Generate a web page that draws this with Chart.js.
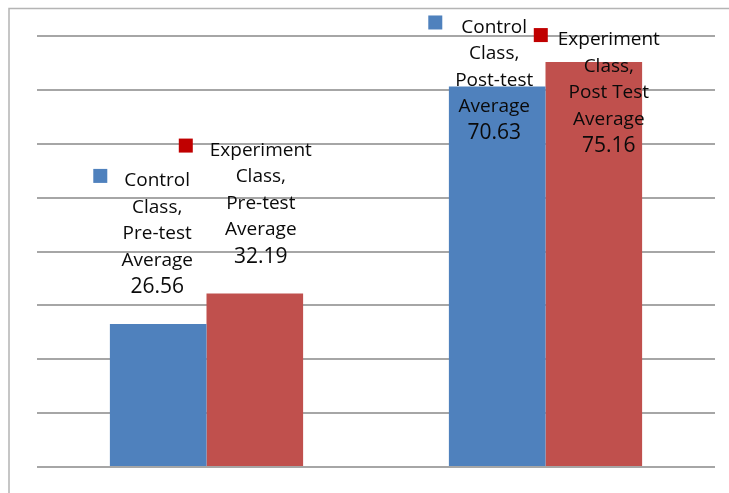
<!DOCTYPE html>
<html>
<head>
<meta charset="utf-8">
<script src="https://cdn.jsdelivr.net/npm/chart.js@4"></script>
<style>
    html, body { margin: 0; padding: 0; background: #fff; }
    #wrap { width: 729px; height: 493px; position: relative; }
</style>
</head>
<body>
<div id="wrap"><canvas id="chart" width="729" height="493"></canvas></div>
<script>
// Chart values
const categories = ['Pre-test', 'Post-test'];
const seriesNames = ['Control Class', 'Experiment Class'];
const controlValues = [26.56, 70.63];
const experimentValues = [32.19, 75.16];
const controlText = [['Control', 'Class,', 'Pre-test', 'Average'], ['Control', 'Class,', 'Post-test', 'Average']];
const experimentText = [['Experiment', 'Class,', 'Pre-test', 'Average'], ['Experiment', 'Class,', 'Post Test', 'Average']];
const yMin = 0;
const yMax = 80;
const yStep = 10;

// Label placement relative to bar top centre (px); gap = space between key square and first line
const labelOffsets = [
    [{ dx: -1, dy: -143, gap: 17 }, { dx: -3, dy: -59, gap: 19 }],
    [{ dx: 6, dy: -143, gap: 17 }, { dx: 15, dy: -22, gap: 10 }]
];
const barColors = ['#4F81BD', '#C0504D'];
const keyColors = ['#4F81BD', '#C00000'];
const labelFont = '"Open Sans", "Lato", sans-serif';

// Outer frame like the original
const framePlugin = {
    id: 'frame',
    beforeDraw(chart) {
        const ctx = chart.ctx;
        ctx.save();
        ctx.strokeStyle = '#b4b4b4';
        ctx.lineWidth = 1.5;
        ctx.beginPath();
        ctx.moveTo(9, chart.height);
        ctx.lineTo(9, 8.5);
        ctx.lineTo(chart.width, 8.5);
        ctx.stroke();
        ctx.restore();
    }
};

// Data labels with legend key
const labelPlugin = {
    id: 'barLabels',
    afterDatasetsDraw(chart) {
        const ctx = chart.ctx;
        const texts = [controlText, experimentText];
        ctx.save();
        ctx.textAlign = 'center';
        ctx.textBaseline = 'middle';
        chart.data.datasets.forEach((ds, di) => {
            const meta = chart.getDatasetMeta(di);
            meta.data.forEach((bar, i) => {
                const off = labelOffsets[di][i];
                const cx = bar.x + off.dx;
                let y = bar.y + off.dy;
                const lines = texts[di][i];
                ctx.font = '19px ' + labelFont;
                const firstW = ctx.measureText(lines[0]).width;
                // legend key square
                ctx.fillStyle = keyColors[di];
                ctx.fillRect(cx - firstW / 2 - off.gap - 14, y - 12, 14, 14);
                ctx.fillStyle = '#0a0a0a';
                lines.forEach(line => {
                    ctx.fillText(line, cx, y);
                    y += 26.5;
                });
                ctx.font = '21px ' + labelFont;
                ctx.fillText(ds.data[i].toFixed(2), cx, y);
            });
        });
        ctx.restore();
    }
};

new Chart(document.getElementById('chart'), {
    type: 'bar',
    data: {
        labels: categories,
        datasets: [
            { label: seriesNames[0], data: controlValues, backgroundColor: barColors[0] },
            { label: seriesNames[1], data: experimentValues, backgroundColor: barColors[1] }
        ]
    },
    options: {
        responsive: false,
        animation: false,
        layout: { padding: { left: 37, right: 14, top: 36, bottom: 26 } },
        datasets: {
            bar: { barPercentage: 1, categoryPercentage: 0.57 }
        },
        plugins: {
            legend: { display: false },
            tooltip: { enabled: false }
        },
        scales: {
            x: {
                display: false
            },
            y: {
                min: yMin,
                max: yMax,
                ticks: { display: false, stepSize: yStep },
                grid: { color: '#a6a6a6', lineWidth: 2, drawTicks: false },
                border: { display: false },
                afterFit(scale) { scale.width = 0; }
            }
        }
    },
    plugins: [framePlugin, labelPlugin]
});
</script>
</body>
</html>
